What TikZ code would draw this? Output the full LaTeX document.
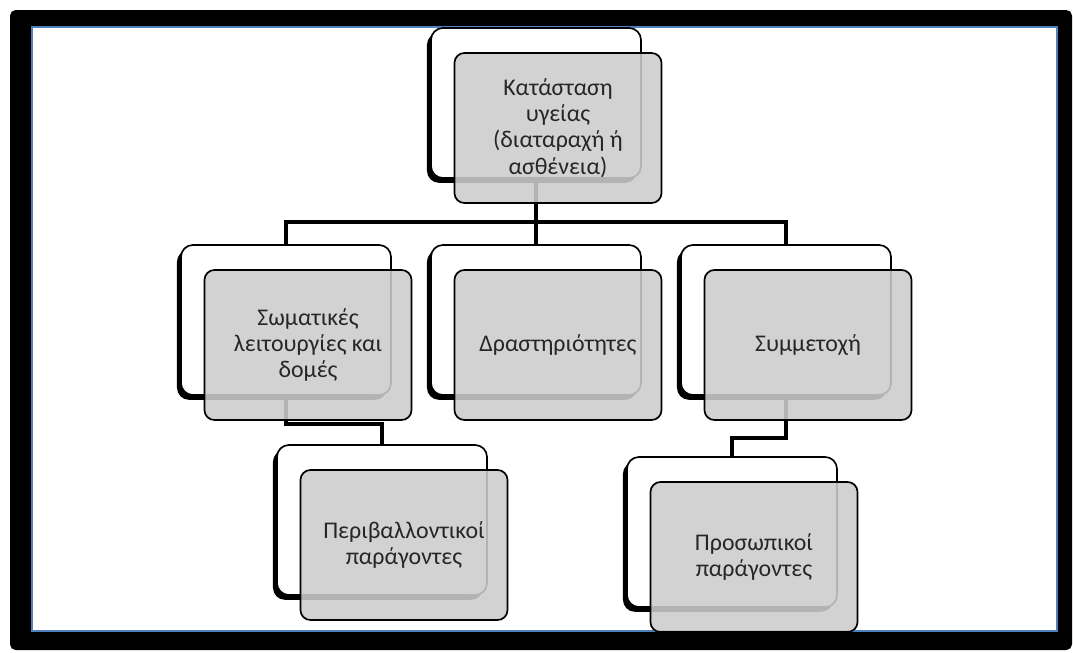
\documentclass[tikz,border=0pt]{standalone}
\usepackage{fontspec}
\setmainfont{Carlito}
\usetikzlibrary{shadows, backgrounds}

\definecolor{frameblue}{HTML}{4F81BD}
\tikzset{
  backbox/.style = {draw, line width=1.2pt, fill=white, rounded corners=0.3cm,
    minimum width=5.25cm, minimum height=3.75cm,
    general shadow={fill=black, shadow xshift=-0.1cm, shadow yshift=-0.12cm}},
  frontbox/.style = {draw, line width=1.2pt, fill=black!20, fill opacity=0.88,
    text opacity=1, text=black!85, rounded corners=0.25cm,
    minimum width=5.175cm, minimum height=3.75cm, align=center,
    font=\fontsize{17}{18.8}\selectfont},
  link/.style = {line width=3pt}
}

\begin{document}
\begin{tikzpicture}[x=0.025cm, y=-0.025cm]
    \useasboundingbox (0,0) rectangle (1073,652);
    \begin{scope}[on background layer]
      \fill [black, rounded corners=4] (10,10) rectangle (1072,650);
      \draw [frameblue, fill=white, line width=1pt] (32,27) rectangle (1057,631);
    \end{scope}
    \foreach \name/\x/\y/\txt in {
        health/536/103/{Κατάσταση\\υγείας\\(διαταραχή ή\\ασθένεια)},
        body/286/320/{Σωματικές\\λειτουργίες και\\δομές},
        activ/536/320/{Δραστηριότητες},
        partic/786/320/{Συμμετοχή},
        envir/382/520/{Περιβαλλοντικοί\\παράγοντες},
        person/732/532/{Προσωπικοί\\παράγοντες}} {
      \node [backbox] (\name) at (\x, \y) {};
      \node [frontbox] (\name-f) at (\x+22, \y+25) {\txt};
    }
    \begin{scope}[on background layer]
      \coordinate (bus) at (536, 222);
      \draw [link] (health.south) -- (bus) -| (body.north);
      \draw [link] (bus) -| (partic.north);
      \draw [link] (bus) -- (activ.north);
      \draw [link] (body.south) -- ++(0, 28) -| (envir.north);
      \draw [link] (partic.south) -- ++(0, 42) -| (person.north);
    \end{scope}
  \end{tikzpicture}
\end{document}
